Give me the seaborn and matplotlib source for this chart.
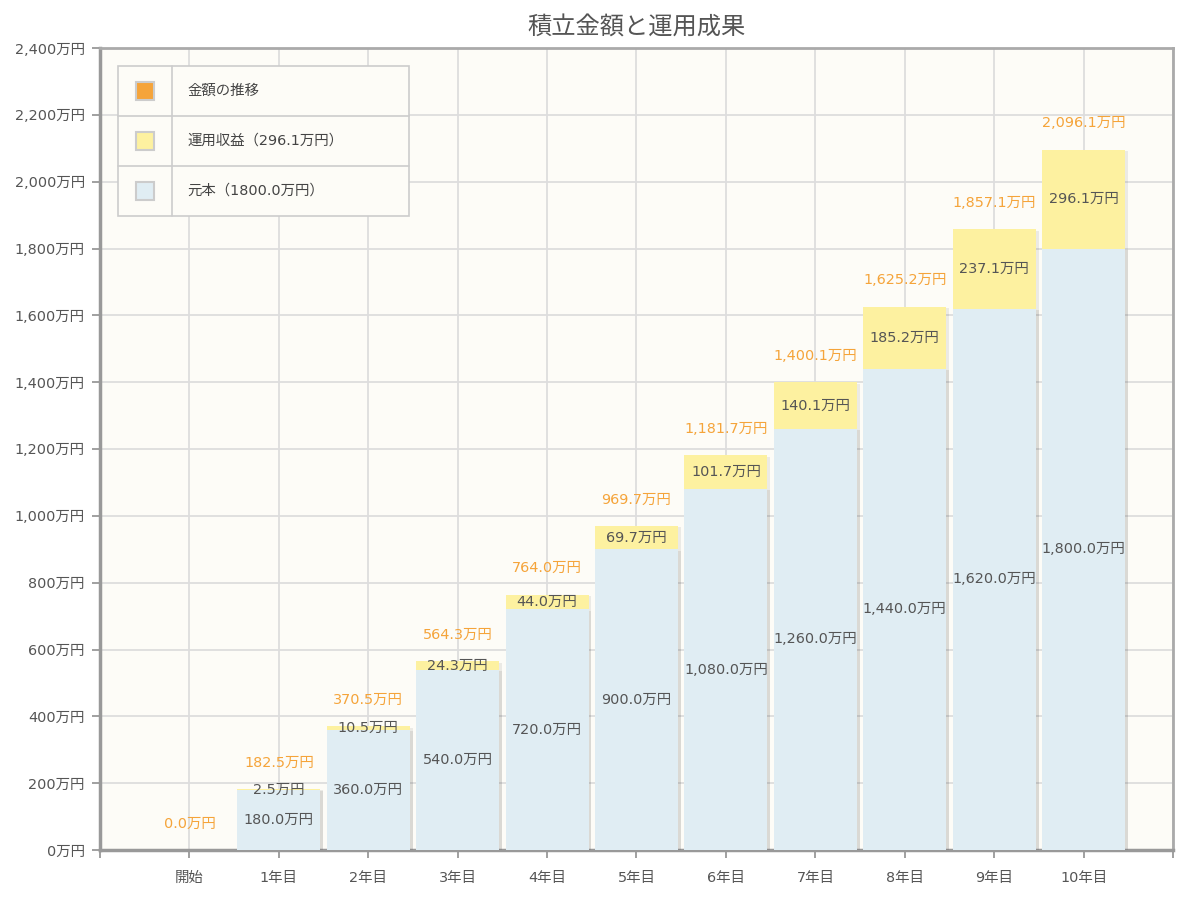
import numpy as np
import pandas as pd
import seaborn as sns
import matplotlib
matplotlib.use('Agg')
import matplotlib.pyplot as plt
import matplotlib.patheffects as pe
from matplotlib.patches import Rectangle

# data
years = ['開始', '1年目', '2年目', '3年目', '4年目', '5年目',
         '6年目', '7年目', '8年目', '9年目', '10年目']
principal = [0.0, 180.0, 360.0, 540.0, 720.0, 900.0, 1080.0, 1260.0, 1440.0, 1620.0, 1800.0]
profit = [0.0, 2.5, 10.5, 24.3, 44.0, 69.7, 101.7, 140.1, 185.2, 237.1, 296.1]
total = [0.0, 182.5, 370.5, 564.3, 764.0, 969.7, 1181.7, 1400.1, 1625.2, 1857.1, 2096.1]
legend_labels = ['金額の推移', '運用収益（296.1万円）', '元本（1800.0万円）']
y_ticks = list(range(0, 2401, 200))

c_blue = '#e0edf3'
c_yellow = '#fdf1a0'
c_orange = '#f5a43a'
c_text = '#555555'
fs = 10.4

sns.set_theme(style='white')
plt.rcParams['font.family'] = ['DejaVu Sans', 'Noto Sans CJK JP']

df = pd.DataFrame({'year': years, 'principal': principal, 'profit': profit, 'total': total})

fig = plt.figure(figsize=(12, 8.98), dpi=100)
ax = fig.add_axes([100 / 1200, 1 - 850 / 898, 1073 / 1200, 802 / 898])
ax.set_facecolor('#fdfcf7')

sns.barplot(data=df, x='year', y='total', color=c_yellow, width=0.93,
            saturation=1, linewidth=0, ax=ax, zorder=2)
sns.barplot(data=df, x='year', y='principal', color=c_blue, width=0.93,
            saturation=1, linewidth=0, ax=ax, zorder=3)
for p in ax.patches:
    p.set_path_effects([pe.SimplePatchShadow(offset=(2, -1), shadow_rgbFace='#000000', alpha=0.07),
                        pe.Normal()])

# labels
for i in range(len(years)):
    if i > 0:
        ax.text(i, principal[i] / 2, '{:,.1f}万円'.format(principal[i]), ha='center', va='center',
                fontsize=fs, color=c_text, zorder=5)
        ax.text(i, principal[i] + profit[i] / 2, '{:,.1f}万円'.format(profit[i]), ha='center', va='center',
                fontsize=fs, color=c_text, zorder=5)
    ax.annotate('{:,.1f}万円'.format(total[i]), (i, total[i]), xytext=(0, 14),
                textcoords='offset points', ha='center', va='bottom',
                fontsize=fs, color=c_orange, zorder=5)

ax.set_xlim(-1, 11)
ax.set_ylim(0, 2400)
ax.set_xticks(range(-1, 12))
ax.set_xticklabels([''] + years + [''])
ax.set_yticks(y_ticks)
ax.set_yticklabels(['{:,}万円'.format(v) for v in y_ticks])
ax.set_xlabel('')
ax.set_ylabel('')
ax.grid(True, color='#dddddd', linewidth=1.3, zorder=0)
ax.set_axisbelow(True)
ax.tick_params(axis='both', which='major', length=6, width=1.3, color='#999999',
               labelsize=fs, labelcolor=c_text, pad=5, direction='out')
ax.tick_params(axis='x', pad=9)
ax.xaxis.set_ticks_position('bottom')
ax.yaxis.set_ticks_position('left')
for side in ['top', 'right']:
    ax.spines[side].set_color('#aaaaaa')
    ax.spines[side].set_linewidth(2)
for side in ['left', 'bottom']:
    ax.spines[side].set_color('#999999')
    ax.spines[side].set_linewidth(2.5)

ax.set_title('積立金額と運用成果', fontsize=17.5, color='#555555', pad=10)

# table-like legend
lx0, lx1, lxs = 0.0168, 0.288, 0.0671
ly = [0.9776, 0.915, 0.853, 0.7905]
ax.add_patch(Rectangle((lx0, ly[3]), lx1 - lx0, ly[0] - ly[3], transform=ax.transAxes,
                       facecolor='#fdfcf7', edgecolor='#cccccc', linewidth=1.2, zorder=6))
ax.plot([lxs, lxs], [ly[3], ly[0]], transform=ax.transAxes, color='#cccccc', lw=1.2, zorder=7)
for yy in ly[1:3]:
    ax.plot([lx0, lx1], [yy, yy], transform=ax.transAxes, color='#cccccc', lw=1.2, zorder=7)
sq_w = 18 / 1073
sq_h = 18 / 802
for k, (lab, col) in enumerate(zip(legend_labels, [c_orange, c_yellow, c_blue])):
    yc = (ly[k] + ly[k + 1]) / 2
    ax.add_patch(Rectangle(((lx0 + lxs) / 2 - sq_w / 2, yc - sq_h / 2), sq_w, sq_h,
                           transform=ax.transAxes, facecolor=col, edgecolor='#cccccc',
                           linewidth=1.5, zorder=8))
    ax.text(lxs + 0.014, yc, lab, transform=ax.transAxes, ha='left', va='center',
            fontsize=fs, color='#444444', zorder=8)

fig.savefig('out.png', dpi=100, facecolor='white')
